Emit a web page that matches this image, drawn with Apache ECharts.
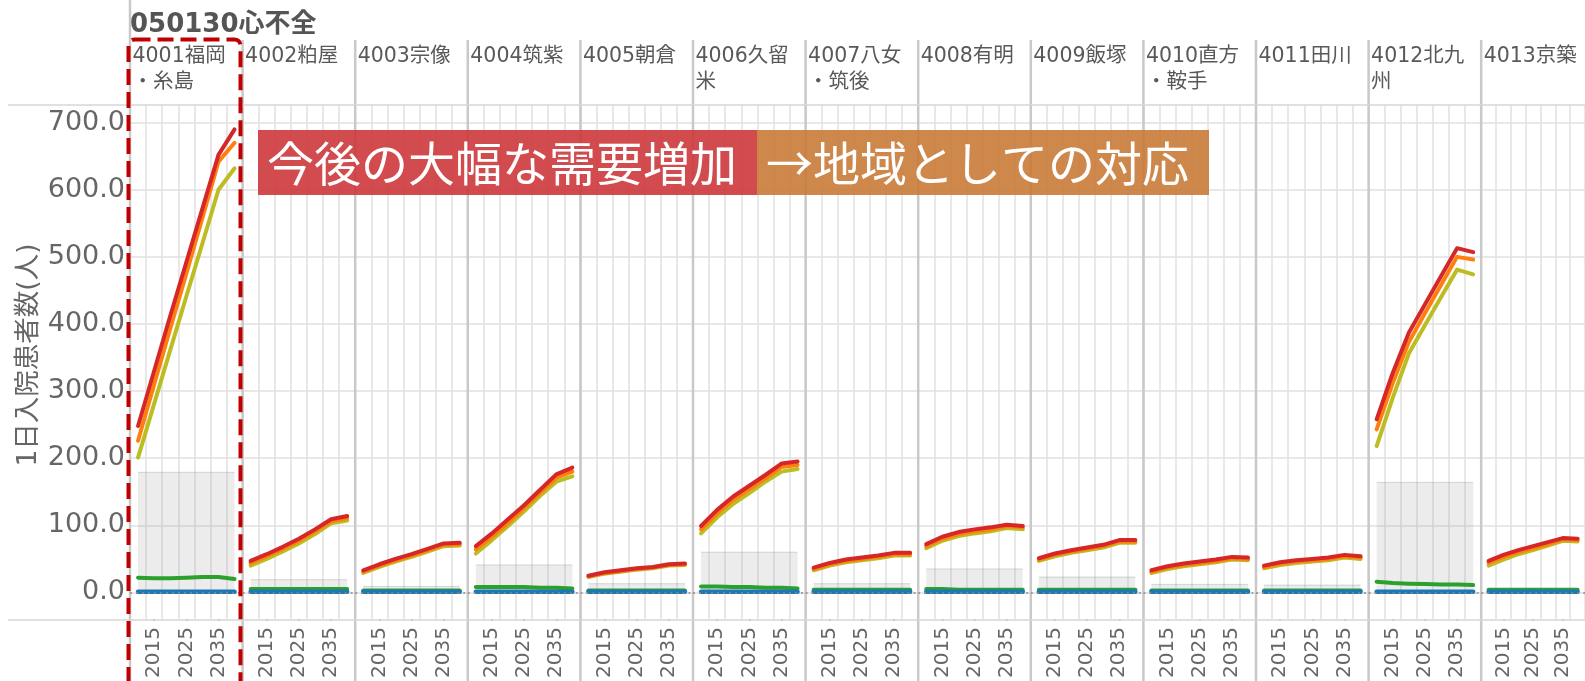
<!DOCTYPE html>
<html>
<head>
<meta charset="utf-8">
<style>
  html, body { margin: 0; padding: 0; background: #fff; }
  #chart { width: 1585px; height: 681px; }
</style>
<script src="https://cdn.jsdelivr.net/npm/echarts@6.0.0/dist/echarts.min.js"></script>
</head>
<body>
<div id="chart"></div>
<script>
// 050130 心不全: projected daily inpatients by secondary medical area (Fukuoka)
const title = '050130心不全';
const yAxisName = '1日入院患者数(人)';
const years = ['2010', '2015', '2020', '2025', '2030', '2035', '2040'];
const labelYears = ['2015', '2025', '2035'];
const yTicks = [0, 100, 200, 300, 400, 500, 600, 700];

const areaNames = [
  '4001福岡\n・糸島', '4002粕屋', '4003宗像', '4004筑紫', '4005朝倉',
  '4006久留\n米', '4007八女\n・筑後', '4008有明', '4009飯塚',
  '4010直方\n・鞍手', '4011田川', '4012北九\n州', '4013京築'
];

// scenario lines (one row per area, one value per year)
const redValues = [
  [248, 330, 412, 492, 572, 652, 690],
  [47, 57, 68, 80, 94, 109, 114],
  [33, 42, 50, 57, 65, 73, 74],
  [69, 88, 109, 130, 153, 176, 186],
  [25, 30, 33, 36, 38, 42, 43],
  [99, 123, 143, 159, 175, 192, 195],
  [37, 44, 49, 52, 55, 59, 59],
  [72, 83, 90, 94, 97, 101, 99],
  [51, 58, 63, 67, 71, 78, 78],
  [33, 39, 43, 46, 49, 53, 52],
  [40, 45, 48, 50, 52, 56, 54],
  [258, 327, 387, 429, 471, 513, 507],
  [47, 56, 63, 69, 75, 81, 80]
];
const orangeValues = [
  [226, 310, 393, 475, 558, 642, 670],
  [44, 54, 65, 77, 91, 106, 111],
  [31, 40, 48, 55, 63, 71, 72],
  [64, 83, 104, 126, 149, 171, 180],
  [24, 29, 32, 35, 37, 41, 42],
  [94, 118, 138, 154, 170, 187, 190],
  [35, 42, 47, 50, 53, 57, 57],
  [69, 80, 87, 91, 94, 99, 97],
  [49, 56, 61, 65, 69, 76, 76],
  [31, 37, 41, 44, 47, 51, 50],
  [38, 43, 46, 48, 50, 54, 52],
  [243, 312, 373, 416, 458, 500, 496],
  [44, 53, 60, 66, 72, 79, 78]
];
const oliveValues = [
  [201, 281, 361, 441, 520, 600, 632],
  [40, 50, 61, 73, 87, 103, 107],
  [29, 38, 46, 53, 61, 69, 70],
  [58, 78, 99, 121, 144, 165, 173],
  [23, 28, 31, 34, 36, 40, 41],
  [88, 112, 132, 148, 165, 180, 184],
  [33, 40, 45, 48, 51, 55, 55],
  [66, 77, 84, 88, 91, 96, 94],
  [47, 54, 59, 63, 67, 74, 74],
  [29, 35, 39, 42, 45, 49, 48],
  [36, 41, 44, 46, 48, 52, 50],
  [218, 290, 356, 398, 440, 481, 474],
  [40, 49, 57, 63, 70, 77, 76]
];
const greenValues = [
  [22, 21, 21, 22, 23, 23, 20],
  [5, 5, 5, 5, 5, 5, 5],
  [3, 3, 3, 3, 3, 3, 3],
  [8, 8, 8, 8, 7, 7, 6],
  [3, 3, 3, 3, 3, 3, 3],
  [9, 9, 8, 8, 7, 7, 6],
  [4, 4, 4, 4, 4, 4, 4],
  [5, 5, 4, 4, 4, 4, 4],
  [4, 4, 4, 4, 4, 4, 4],
  [3, 3, 3, 3, 3, 3, 3],
  [3, 3, 3, 3, 3, 3, 3],
  [16, 14, 13, 12.5, 12, 12, 11],
  [4, 4, 4, 4, 4, 4, 4]
];
const blueValues = [
  [1, 1, 1, 1, 1, 1, 1], [1, 1, 1, 1, 1, 1, 1], [1, 1, 1, 1, 1, 1, 1],
  [1, 1, 1, 1, 1, 1, 1], [1, 1, 1, 1, 1, 1, 1], [1, 1, 1, 1, 1, 1, 1],
  [1, 1, 1, 1, 1, 1, 1], [1, 1, 1, 1, 1, 1, 1], [1, 1, 1, 1, 1, 1, 1],
  [1, 1, 1, 1, 1, 1, 1], [1, 1, 1, 1, 1, 1, 1], [1, 1, 1, 1, 1, 1, 1],
  [1, 1, 1, 1, 1, 1, 1]
];
// grey band level per area
const bandValues = [179, 19, 9, 41, 13, 60, 13, 35, 23, 12, 11, 164, 5];

const annotationRed = '今後の大幅な需要増加';
const annotationOrange = '→地域としての対応';

// ---- layout ----
const FONT = '"DejaVu Sans", "Noto Sans CJK JP", sans-serif';
const PANEL_LEFT = 130;
const PANEL_W = 112.6;
const PLOT_TOP = 105;
const PLOT_BOTTOM = 620;
const Y_MIN = -39.7;
const Y_MAX = 726.3;
const GRID_COLOR = '#e1e1e1';

const showYear = (idx, val) => labelYears.indexOf(String(val)) >= 0;

const grids = [], xAxes = [], yAxes = [], series = [], graphics = [];

areaNames.forEach((name, k) => {
  const left = PANEL_LEFT + k * PANEL_W;
  grids.push({ left: left, top: PLOT_TOP, width: PANEL_W, height: PLOT_BOTTOM - PLOT_TOP, containLabel: false });
  xAxes.push({
    gridIndex: k, type: 'category', data: years, boundaryGap: true,
    axisLine: { show: false, onZero: false },
    axisTick: { show: true, alignWithLabel: true, interval: showYear, length: 2, lineStyle: { color: '#999', width: 1.5 } },
    axisLabel: { interval: showYear, rotate: 90, fontSize: 20, color: '#666', margin: 8, fontFamily: FONT },
    splitLine: { show: true, interval: 0, lineStyle: { color: GRID_COLOR, width: 1.5 } }
  });
  yAxes.push({
    gridIndex: k, type: 'value', min: Y_MIN, max: Y_MAX,
    axisLine: { show: false },
    axisTick: { show: false, customValues: yTicks },
    axisLabel: {
      show: k === 0, customValues: yTicks, fontSize: 27, color: '#666', margin: 5,
      fontFamily: FONT, formatter: v => v.toFixed(1)
    },
    splitLine: { show: true, lineStyle: { color: GRID_COLOR, width: 1.5 } }
  });

  const base = { xAxisIndex: k, yAxisIndex: k, type: 'line', showSymbol: false, symbol: 'none', silent: true, clip: false };
  series.push(Object.assign({}, base, {
    name: 'band', data: years.map(() => bandValues[k]),
    lineStyle: { color: 'rgba(150,150,150,0.35)', width: 1 },
    areaStyle: { color: 'rgba(160,160,160,0.28)' }, z: 1
  }));
  series.push(Object.assign({}, base, {
    name: 'green', data: greenValues[k],
    lineStyle: { color: '#2ca02c', width: 4, cap: 'round', join: 'round' }
  }));
  series.push(Object.assign({}, base, {
    name: 'blue', data: blueValues[k],
    lineStyle: { color: '#1f77b4', width: 4.5, cap: 'round', join: 'round' },
    markLine: {
      silent: true, symbol: ['none', 'none'], label: { show: false },
      lineStyle: { type: [2, 4], color: '#8a8a8a', width: 1.5 },
      data: [{ yAxis: 0 }]
    }
  }));
  series.push(Object.assign({}, base, {
    name: 'olive', data: oliveValues[k],
    lineStyle: { color: '#bcbd22', width: 4, cap: 'round', join: 'round' }
  }));
  series.push(Object.assign({}, base, {
    name: 'orange', data: orangeValues[k],
    lineStyle: { color: '#ff7f0e', width: 4, cap: 'round', join: 'round' }
  }));
  series.push(Object.assign({}, base, {
    name: 'red', data: redValues[k],
    lineStyle: { color: '#d62728', width: 4, cap: 'round', join: 'round' }
  }));

  // column header
  graphics.push({
    type: 'text', x: left + 2.5, y: 44, z: 10,
    style: { text: name, font: '20.5px ' + FONT, fill: '#595959', lineHeight: 26, align: 'left', verticalAlign: 'top', textAlign: 'left', textVerticalAlign: 'top' }
  });
});

// column separators
for (let k = 0; k <= areaNames.length; k++) {
  const x = PANEL_LEFT + k * PANEL_W;
  graphics.push({
    type: 'line', z: 3, silent: true,
    shape: { x1: x, y1: k === 0 ? 0 : 40, x2: x, y2: 681 },
    style: { stroke: '#c9c9c9', lineWidth: 2.5 }
  });
}
// header / footer rules
[PLOT_TOP, PLOT_BOTTOM].forEach(y => {
  graphics.push({
    type: 'line', z: 3, silent: true,
    shape: { x1: 8, y1: y, x2: 1585, y2: y },
    style: { stroke: '#d6d6d6', lineWidth: 1.5 }
  });
});
// title
graphics.push({
  type: 'text', x: 130, y: 25, z: 10,
  style: { text: title, font: 'bold 26px ' + FONT, fill: '#555', align: 'left', verticalAlign: 'middle', textAlign: 'left', textVerticalAlign: 'middle' }
});
// value axis name
graphics.push({
  type: 'text', x: 29, y: 355, rotation: Math.PI / 2, z: 10,
  style: { text: yAxisName, font: '26.5px ' + FONT, fill: '#666', align: 'center', verticalAlign: 'middle', textAlign: 'center', textVerticalAlign: 'middle' }
});
// callout boxes
graphics.push({
  type: 'rect', z: 12, silent: true,
  shape: { x: 258, y: 130, width: 499, height: 65 },
  style: { fill: 'rgba(204,51,55,0.88)' }
});
graphics.push({
  type: 'rect', z: 12, silent: true,
  shape: { x: 757, y: 130, width: 452, height: 65 },
  style: { fill: 'rgba(200,120,50,0.88)' }
});
graphics.push({
  type: 'text', x: 267, y: 163, z: 13,
  style: { text: annotationRed, font: '47px "Noto Sans CJK JP", sans-serif', fill: '#fff', align: 'left', verticalAlign: 'middle', textAlign: 'left', textVerticalAlign: 'middle' }
});
graphics.push({
  type: 'text', x: 766, y: 163, z: 13,
  style: { text: annotationOrange, font: '47px "Noto Sans CJK JP", sans-serif', fill: '#fff', align: 'left', verticalAlign: 'middle', textAlign: 'left', textVerticalAlign: 'middle' }
});
// highlight frame around the first area
graphics.push({
  type: 'rect', z: 14, silent: true,
  shape: { x: 128.5, y: 39.5, width: 112, height: 700, r: 6 },
  style: { fill: 'none', stroke: '#c00000', lineWidth: 4, lineDash: [16, 7] }
});

const chart = echarts.init(document.getElementById('chart'), null, { renderer: 'canvas' });
chart.setOption({
  animation: false,
  backgroundColor: '#fff',
  grid: grids,
  xAxis: xAxes,
  yAxis: yAxes,
  series: series,
  graphic: { elements: graphics }
});
</script>
</body>
</html>
